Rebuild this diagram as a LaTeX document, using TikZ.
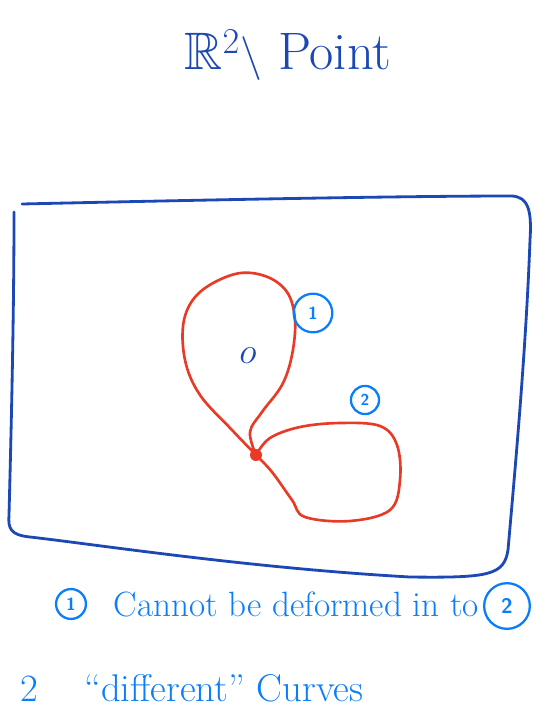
\documentclass[tikz,border=0pt]{standalone}
\usepackage{amsmath,amssymb}
\usepackage{xcolor}
\usepackage{tikz}
\usetikzlibrary{positioning,calc}
\definecolor{inkblue}{RGB}{28,72,182}
\definecolor{penblue}{RGB}{10,125,250}
\definecolor{loopred}{RGB}{232,58,38}

\begin{document}
\begin{tikzpicture}[x=0.02cm,y=-0.02cm,line cap=round,line join=round]
\tikzset{frame/.style={draw=inkblue,line width=1.6pt},
  loop/.style={draw=loopred,line width=1.5pt},
  tag/.style={draw=penblue,circle,line width=1.3pt,inner sep=1pt,text=penblue,font=\sffamily\bfseries},
  note/.style={text=penblue,font=\fontsize{20}{24}\selectfont,anchor=west,inner sep=0pt}}
\useasboundingbox (0,0) rectangle (534,714);
% title
\node[text=inkblue,font=\fontsize{30}{34}\selectfont] (title) at (288,55) {$\mathbb{R}^2\setminus$ Point};
% the plane
\draw[frame] (22,204) .. controls (200,200) and (400,196) .. (512,196)
  .. controls (528,197) and (532,210) .. (530,240)
  .. controls (526,350) and (515,470) .. (508,550)
  .. controls (504,575) and (490,578) .. (410,577)
  .. controls (250,568) and (100,545) .. (30,537)
  .. controls (10,535) and (8,528) .. (9,515)
  .. controls (12,400) and (14,300) .. (14,212);
% the two loops through the point
\coordinate (x) at (256,455);
\draw[loop] plot[smooth,tension=0.6] coordinates {(x) (232,430) (200,395) (185,360) (184,320) (200,292) (235,274) (265,276) (287,292) (295,320) (292,355) (282,385) (262,412) (250,432) (x)};
\draw[loop] plot[smooth,tension=0.6] coordinates {(x) (270,438) (300,427) (340,423) (380,426) (397,445) (400,480) (390,510) (350,521) (305,517) (292,500) (272,472) (x)};
\fill[loopred] (x) circle (6);
\node[text=inkblue,font=\fontsize{20}{22}\selectfont] (o) at (248,356) {$o$};
\node[tag,minimum size=22pt] (one) at (313,313) {1};
\node[tag,minimum size=16pt,font=\sffamily\bfseries\small] (two) at (365,400) {2};
% remark below
\node[tag,minimum size=17pt,font=\sffamily\bfseries] (n1) at (71,604) {1};
\node[note,right=15pt of n1] (rem) {Cannot be deformed in to};
\node[tag,minimum size=26pt,font=\sffamily\bfseries\large] (n2) at (507,606) {2};
\node[note,font=\fontsize{22}{26}\selectfont] (curves) at (20,688) {2\hspace{1.2em}``different'' Curves};
\end{tikzpicture}
\end{document}
